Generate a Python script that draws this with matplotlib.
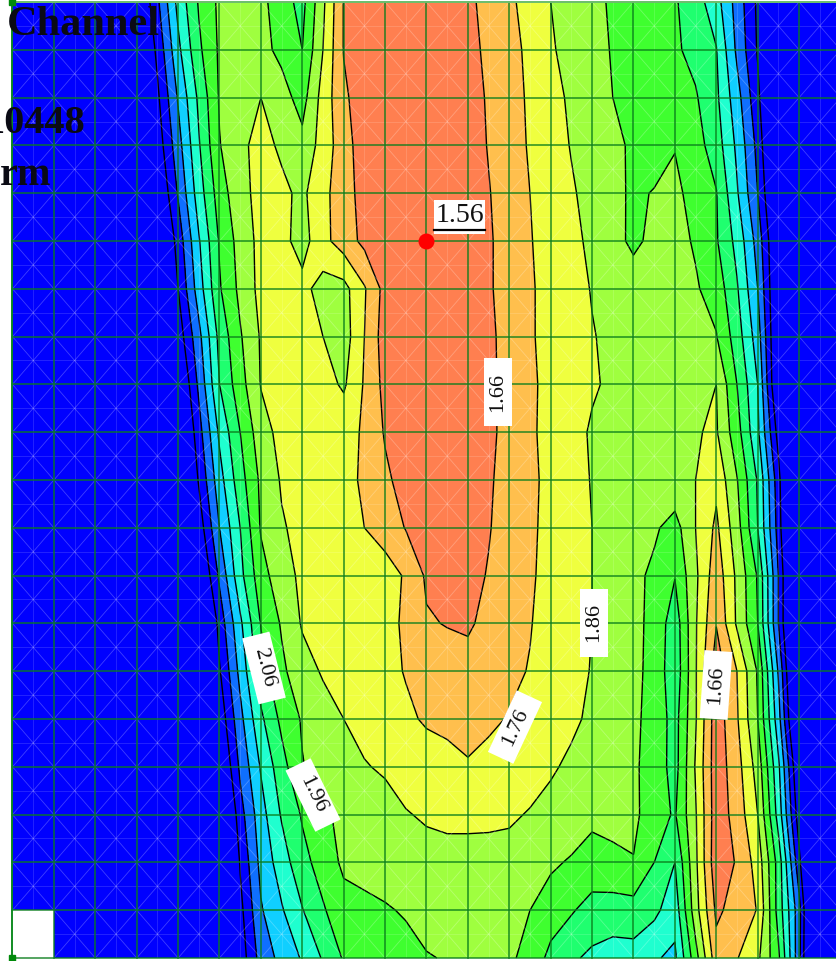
"""Depth contours of a channel reach, on its computational mesh."""
import matplotlib

matplotlib.use("Agg")
import matplotlib.pyplot as plt
import numpy as np
from matplotlib.patches import Rectangle
from matplotlib.transforms import Affine2D

plt.rcParams["font.family"] = ["Liberation Serif", "DejaVu Serif"]

# mesh spacing in image pixels
X0, DX = 12.5, 41.4
Y0, DY = 2.0, 47.8

# one row per mesh row, one value per half cell from column 3 to column 19.5
depth = [
    [2.70, 2.48, 2.23, 2.05, 1.94, 1.91, 1.93, 2.02, 2.09, 1.88, 1.655, 1.60, 1.60, 1.60, 1.60, 1.60, 1.64, 1.69, 1.74, 1.80, 1.86, 1.90, 1.94, 1.97, 2.00, 2.025, 2.05, 2.115, 2.22, 2.40, 2.58, 2.8, 3, 3],
    [2.75, 2.535, 2.285, 2.08, 1.945, 1.91, 1.93, 1.985, 2.06, 1.86, 1.655, 1.60, 1.60, 1.60, 1.60, 1.60, 1.63, 1.68, 1.73, 1.78, 1.85, 1.89, 1.93, 1.966, 1.99, 2.02, 2.045, 2.09, 2.155, 2.38, 2.57, 2.8, 3, 3],
    [2.8, 2.58, 2.35, 2.14, 1.95, 1.90, 1.86, 1.92, 2.0, 1.82, 1.68, 1.60, 1.60, 1.60, 1.60, 1.60, 1.62, 1.67, 1.72, 1.775, 1.83, 1.875, 1.915, 1.96, 1.98, 2.01, 2.03, 2.05, 2.14, 2.32, 2.535, 2.8, 3, 3],
    [2.85, 2.62, 2.40, 2.17, 1.965, 1.88, 1.83, 1.875, 1.93, 1.82, 1.70, 1.61, 1.60, 1.60, 1.60, 1.60, 1.615, 1.665, 1.715, 1.77, 1.82, 1.865, 1.90, 1.945, 1.97, 2.0, 1.965, 2.02, 2.11, 2.28, 2.49, 2.8, 3, 3],
    [2.9, 2.68, 2.45, 2.21, 2.01, 1.89, 1.83, 1.84, 1.88, 1.79, 1.70, 1.625, 1.60, 1.60, 1.60, 1.60, 1.61, 1.655, 1.705, 1.76, 1.805, 1.85, 1.89, 1.935, 1.975, 1.955, 1.935, 2.0, 2.055, 2.25, 2.46, 2.75, 3, 3],
    [2.95, 2.75, 2.52, 2.27, 2.05, 1.92, 1.83, 1.83, 1.90, 1.79, 1.71, 1.635, 1.58, 1.565, 1.56, 1.57, 1.60, 1.65, 1.695, 1.755, 1.795, 1.835, 1.88, 1.92, 1.985, 1.93, 1.93, 1.97, 2.05, 2.19, 2.40, 2.7, 3, 3],
    [3, 2.81, 2.56, 2.31, 2.07, 1.935, 1.83, 1.80, 1.83, 1.90, 1.895, 1.77, 1.625, 1.60, 1.60, 1.60, 1.61, 1.65, 1.695, 1.75, 1.79, 1.825, 1.865, 1.885, 1.90, 1.91, 1.93, 1.95, 2.0, 2.15, 2.36, 2.7, 3, 3],
    [3, 2.88, 2.62, 2.39, 2.13, 1.97, 1.85, 1.81, 1.82, 1.86, 1.91, 1.76, 1.61, 1.59, 1.59, 1.59, 1.60, 1.64, 1.695, 1.75, 1.79, 1.82, 1.855, 1.88, 1.89, 1.90, 1.91, 1.93, 1.955, 2.11, 2.31, 2.7, 3, 3],
    [3, 2.90, 2.70, 2.44, 2.16, 2.0, 1.855, 1.82, 1.81, 1.82, 1.875, 1.75, 1.63, 1.58, 1.58, 1.58, 1.59, 1.64, 1.69, 1.745, 1.785, 1.815, 1.85, 1.875, 1.89, 1.89, 1.885, 1.87, 1.86, 2.06, 2.26, 2.7, 3, 3],
    [3, 2.95, 2.76, 2.50, 2.24, 2.06, 1.90, 1.83, 1.80, 1.80, 1.79, 1.75, 1.65, 1.60, 1.59, 1.59, 1.60, 1.64, 1.69, 1.745, 1.79, 1.83, 1.87, 1.885, 1.89, 1.885, 1.875, 1.865, 1.85, 2.02, 2.24, 2.6, 3, 3],
    [3, 3, 2.8, 2.55, 2.30, 2.10, 1.94, 1.85, 1.80, 1.79, 1.78, 1.75, 1.68, 1.62, 1.60, 1.60, 1.61, 1.65, 1.69, 1.74, 1.785, 1.825, 1.865, 1.88, 1.89, 1.89, 1.885, 1.86, 1.785, 1.955, 2.17, 2.52, 3, 3],
    [3, 3, 2.85, 2.62, 2.36, 2.16, 1.95, 1.87, 1.83, 1.81, 1.79, 1.76, 1.72, 1.655, 1.62, 1.615, 1.625, 1.655, 1.695, 1.745, 1.785, 1.82, 1.86, 1.89, 1.915, 1.945, 2.0, 1.86, 1.74, 1.92, 2.16, 2.50, 3, 3],
    [3, 3, 2.95, 2.70, 2.44, 2.19, 2.0, 1.90, 1.84, 1.82, 1.81, 1.81, 1.80, 1.75, 1.645, 1.62, 1.635, 1.665, 1.705, 1.75, 1.785, 1.82, 1.86, 1.895, 1.935, 1.98, 2.055, 1.88, 1.70, 1.88, 2.07, 2.46, 2.9, 3],
    [3, 3, 3, 2.85, 2.52, 2.28, 2.055, 1.95, 1.85, 1.83, 1.81, 1.80, 1.78, 1.75, 1.67, 1.655, 1.645, 1.69, 1.72, 1.755, 1.80, 1.825, 1.86, 1.90, 1.935, 1.985, 2.12, 1.87, 1.665, 1.875, 2.06, 2.46, 2.9, 3],
    [3, 3, 3, 2.9, 2.57, 2.33, 2.10, 1.98, 1.90, 1.85, 1.83, 1.81, 1.785, 1.755, 1.72, 1.71, 1.70, 1.72, 1.74, 1.765, 1.80, 1.83, 1.865, 1.90, 1.935, 1.99, 2.13, 1.87, 1.60, 1.76, 1.97, 2.37, 2.85, 3],
    [3, 3, 3, 3, 2.63, 2.39, 2.18, 2.035, 1.95, 1.90, 1.86, 1.835, 1.805, 1.775, 1.75, 1.745, 1.74, 1.745, 1.765, 1.79, 1.82, 1.845, 1.875, 1.91, 1.94, 1.995, 2.10, 1.87, 1.60, 1.75, 1.96, 2.32, 2.8, 3],
    [3, 3, 3, 3, 2.7, 2.44, 2.25, 2.10, 1.965, 1.92, 1.885, 1.865, 1.85, 1.825, 1.80, 1.78, 1.765, 1.785, 1.81, 1.83, 1.85, 1.875, 1.90, 1.92, 1.945, 2.0, 2.10, 1.85, 1.60, 1.72, 1.90, 2.24, 2.68, 3],
    [3, 3, 3, 3, 2.8, 2.50, 2.30, 2.15, 2.05, 1.975, 1.94, 1.915, 1.89, 1.865, 1.85, 1.84, 1.84, 1.845, 1.85, 1.865, 1.885, 1.905, 1.94, 1.94, 1.935, 2.02, 2.07, 1.87, 1.60, 1.70, 1.86, 2.20, 2.62, 3],
    [3, 3, 3, 3, 2.9, 2.55, 2.33, 2.21, 2.09, 2.02, 1.94, 1.925, 1.91, 1.895, 1.89, 1.89, 1.89, 1.885, 1.885, 1.90, 1.945, 1.97, 1.995, 1.975, 1.965, 2.06, 2.16, 1.88, 1.59, 1.67, 1.80, 2.10, 2.53, 3],
    [3, 3, 3, 3, 3, 2.59, 2.37, 2.27, 2.165, 2.07, 2.0, 1.985, 1.97, 1.95, 1.93, 1.92, 1.91, 1.92, 1.935, 1.96, 2.005, 2.05, 2.10, 2.11, 2.10, 2.135, 2.22, 1.90, 1.64, 1.70, 1.765, 2.10, 2.42, 3],
    [3, 3, 3, 3, 3, 2.62, 2.42, 2.33, 2.25, 2.15, 2.05, 2.03, 2.01, 1.995, 1.965, 1.955, 1.94, 1.93, 1.945, 1.99, 2.09, 2.145, 2.18, 2.20, 2.20, 2.25, 2.28, 2.0, 1.70, 1.755, 1.84, 2.04, 2.43, 3],
]
bank_depth = 3.0

band_levels = [0, 1.66, 1.76, 1.86, 1.96, 2.06, 2.16, 2.26, 2.36, 2.46, 5]
band_colors = ["#ff7f50", "#ffbf4d", "#efff3f", "#9fff3f", "#3fff2f",
               "#1fff6f", "#1fffcf", "#10cfff", "#0f6fff", "#0000ff"]
line_levels = [1.66, 1.76, 1.86, 1.96, 2.06, 2.16, 2.26, 2.36, 2.46, 2.56]

# (text, centre x, centre y, rotation)
labels = [
    ("1.66", 498, 392, 90),
    ("1.86", 594, 623, 90),
    ("1.66", 716, 685, 86),
    ("1.76", 515, 727, 65),
    ("2.06", 264, 668, -76),
    ("1.96", 313, 795, -64),
]
min_value = "1.56"
title_lines = [("Channel", 160, 35, 30.5), ("10448", 86, 133, 29), ("rm", 51, 185, 29)]

fig = plt.figure(figsize=(8.37, 9.61), dpi=100)
ax = fig.add_axes([0, 0, 1, 1])
ax.set_xlim(0, 837)
ax.set_ylim(961, 0)
ax.axis("off")

z = np.array(depth, dtype=float)
n_rows = z.shape[0]
ys = Y0 + DY * np.arange(n_rows)
xs = X0 + DX / 2 * np.arange(6, 6 + z.shape[1])
# bank columns out to the mesh edges
edge = np.full((n_rows, 1), bank_depth)
xs_all = np.r_[X0, xs, X0 + DX * 20]
z_all = np.hstack([edge, z, edge])

ax.contourf(xs_all, ys, z_all, levels=band_levels, colors=band_colors, zorder=1, antialiased=False)
ax.contour(xs_all, ys, z_all, levels=line_levels, colors="black", linewidths=1.0, zorder=2)

# faint triangles of the mesh
x_cells = X0 + DX * np.arange(21)
for xa in x_cells[:-1]:
    for ya in ys[:-1]:
        xb, yb = xa + DX, ya + DY
        xm, ym = xa + DX / 2, ya + DY / 2
        for sx, sy in [([xa, xb], [ya, yb]), ([xa, xb], [yb, ya])]:
            ax.plot(sx, sy, color="white", lw=0.6, alpha=0.25, zorder=3, solid_capstyle="butt")
        for sx, sy in [([xm, xm], [ya, yb]), ([xa, xb], [ym, ym])]:
            ax.plot(sx, sy, color="white", lw=0.6, alpha=0.16, zorder=3, solid_capstyle="butt")

ax.add_patch(Rectangle((X0, ys[-2]), DX, DY, facecolor="white", edgecolor="none", zorder=3.5))

for xa in x_cells:
    ax.plot([xa, xa], [ys[0], ys[-1]], color="#0a7d1c", lw=1.15, alpha=0.85, zorder=4)
for ya in ys:
    ax.plot([X0, 837], [ya, ya], color="#0a7d1c", lw=1.15, alpha=0.85, zorder=4)
ax.plot([X0, 837], [ys[0], ys[0]], color="#6fbf6f", lw=1.4, zorder=4)
ax.plot([X0, X0], [ys[0], ys[-1]], color="#0a8a1c", lw=1.2, zorder=4)
ax.plot([X0, X0], [ys[0], ys[-1]], "s", color="#008a0a", ms=4, zorder=4)

for text, cx, cy, rot in labels:
    box = Rectangle((cx - 34, cy - 14), 68, 28, facecolor="white", edgecolor="none", zorder=5,
                    transform=Affine2D().rotate_deg_around(cx, cy, -rot) + ax.transData)
    ax.add_patch(box)
    ax.text(cx, cy, text, rotation=rot, rotation_mode="anchor", ha="center", va="center",
            fontsize=16, color="#111111", zorder=6)

ax.plot([426], [241], "o", color="#ff0000", ms=11.5, mec="none", zorder=6)
ax.add_patch(Rectangle((434, 200), 51, 34, facecolor="white", edgecolor="none", zorder=5))
ax.text(459.5, 216, min_value, ha="center", va="center", fontsize=20, color="#111111", zorder=6)
ax.plot([434, 485], [229.5, 229.5], color="black", lw=1.6, zorder=6)

for text, xr, yb, size in title_lines:
    ax.text(xr, yb, text, ha="right", va="baseline", fontsize=size, fontweight="bold", color="#0a0a14", zorder=7)

fig.savefig("out.png", dpi=100)
